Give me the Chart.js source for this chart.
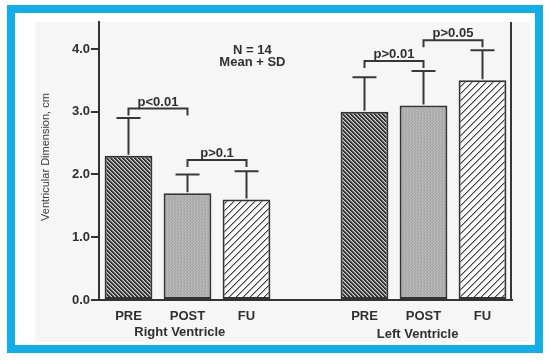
<!DOCTYPE html>
<html><head><meta charset="utf-8">
<script src="https://cdn.jsdelivr.net/npm/chart.js@4/dist/chart.umd.min.js"></script>
<style>html,body{margin:0;padding:0;background:#fff;} #wrap{width:550px;height:360px;position:relative}</style>
</head><body><div id="wrap"><canvas id="c" width="550" height="360"></canvas></div>
<script>
// ---- data ----
const categories = ['PRE', 'POST', 'FU', '', 'PRE', 'POST', 'FU'];
const means = [2.3, 1.7, 1.6, null, 3.0, 3.1, 3.5];
const sds = [0.6, 0.3, 0.45, null, 0.55, 0.55, 0.48];
const yTicks = [0, 1, 2, 3, 4];
const yMax = 4.43;
const groupNames = ['Right Ventricle', 'Left Ventricle'];
const groupCenters = [0.87, 4.9];
const bracketFrom = [0, 1, 4, 5];
const bracketTo = [1, 2, 5, 6];
const bracketLevel = [3.05, 2.23, 3.81, 4.14];
const bracketLabels = ['p<0.01', 'p>0.1', 'p>0.01', 'p>0.05'];
const noteLines = ['N = 14', 'Mean + SD'];
const notePos = 2.1;
const noteLevels = [3.98, 3.78];
const yTitle = 'Ventricular Dimension, cm';

// ---- styles ----
const INK = '#2f2f2f';
const FONT = "'Liberation Sans', Arial, sans-serif";
const canvas = document.getElementById('c');
const mctx = canvas.getContext('2d');

function pixelPattern(size, fn) {
  const c = document.createElement('canvas'); c.width = c.height = size;
  const g = c.getContext('2d');
  for (let y = 0; y < size; y++) for (let x = 0; x < size; x++) {
    g.fillStyle = fn(x, y); g.fillRect(x, y, 1, 1);
  }
  return mctx.createPattern(c, 'repeat');
}
// dense "\" stripes
const prePat = pixelPattern(4, (x, y) => {
  const m = ((x - y) % 4 + 4) % 4;
  return m === 0 ? '#262626' : m === 1 ? '#3c3c3c' : m === 2 ? '#8a8a8a' : '#d4d4d4';
});
// gray stipple
const postShades = ['#a4a4a4', '#bcbcbc', '#ababab', '#b6b6b6', '#9e9e9e', '#b9b9b9', '#aeaeae', '#a7a7a7', '#bfbfbf'];
const postPat = pixelPattern(3, (x, y) => postShades[y * 3 + x]);
// sparse "/" stripes
const fuPat = pixelPattern(7, (x, y) => {
  const m = (x + y) % 7;
  return m === 0 ? '#3a3a3a' : m === 1 ? '#a8a8a8' : '#f8f8f8';
});
const fills = [prePat, postPat, fuPat, 'rgba(0,0,0,0)', prePat, postPat, fuPat];

const deco = {
  id: 'deco',
  beforeDraw(chart) {
    const ctx = chart.ctx;
    ctx.save();
    ctx.fillStyle = '#ffffff'; ctx.fillRect(0, 0, 550, 360);
    ctx.fillStyle = '#f6f6f6'; ctx.fillRect(35, 22, 495, 320);
    ctx.strokeStyle = '#12aeea'; ctx.lineWidth = 8;
    ctx.strokeRect(11, 9, 528, 340);
    ctx.restore();
  },
  afterDatasetsDraw(chart) {
    const ctx = chart.ctx, xs = chart.scales.x, ys = chart.scales.y, ca = chart.chartArea;
    ctx.save();
    ctx.strokeStyle = '#383838'; ctx.lineWidth = 2; ctx.lineCap = 'butt';
    // right frame line
    ctx.beginPath(); ctx.moveTo(ca.right - 1, ca.top); ctx.lineTo(ca.right - 1, ca.bottom + 1); ctx.stroke();
    // error bars (upper only)
    means.forEach((m, i) => {
      if (m == null) return;
      const x = xs.getPixelForValue(i);
      const y0 = ys.getPixelForValue(m), y1 = ys.getPixelForValue(m + sds[i]);
      ctx.beginPath();
      ctx.moveTo(x, y0 - 1); ctx.lineTo(x, y1);
      ctx.moveTo(x - 12, y1); ctx.lineTo(x + 12, y1);
      ctx.stroke();
    });
    // brackets
    ctx.fillStyle = INK; ctx.font = 'bold 13px ' + FONT; ctx.textAlign = 'center'; ctx.textBaseline = 'alphabetic';
    bracketLabels.forEach((lab, k) => {
      const xa = xs.getPixelForValue(bracketFrom[k]), xb = xs.getPixelForValue(bracketTo[k]);
      const y = ys.getPixelForValue(bracketLevel[k]);
      ctx.beginPath();
      ctx.moveTo(xa, y + 7); ctx.lineTo(xa, y); ctx.lineTo(xb, y); ctx.lineTo(xb, y + 7);
      ctx.stroke();
      ctx.fillText(lab, (xa + xb) / 2, y - 3);
    });
    // note
    ctx.textBaseline = 'middle';
    noteLines.forEach((t, k) => ctx.fillText(t, xs.getPixelForValue(notePos), ys.getPixelForValue(noteLevels[k])));
    // group labels
    ctx.font = 'bold 13px ' + FONT;
    groupNames.forEach((g, k) => ctx.fillText(g, xs.getPixelForValue(groupCenters[k]), ca.bottom + 32 + k * 2));
    // y title
    ctx.font = '11px ' + FONT; ctx.fillStyle = '#3a3a3a';
    ctx.translate(46, (ca.top + ca.bottom) / 2 - 4);
    ctx.rotate(-Math.PI / 2);
    ctx.fillText(yTitle, 0, 0);
    ctx.restore();
  }
};

new Chart(canvas, {
  type: 'bar',
  data: {
    labels: categories,
    datasets: [{
      data: means,
      backgroundColor: fills,
      borderColor: '#333',
      borderWidth: 2,
      borderSkipped: false,
      barPercentage: 0.81,
      categoryPercentage: 1.0
    }]
  },
  options: {
    responsive: false,
    animation: false,
    devicePixelRatio: 1,
    layout: { padding: { top: 22, right: 38, left: 0, bottom: 0 } },
    plugins: { legend: { display: false }, tooltip: { enabled: false }, title: { display: false } },
    scales: {
      x: {
        offset: true,
        afterFit: s => { s.height = 60; },
        grid: { display: true, drawOnChartArea: false, drawTicks: false },
        border: { display: true, color: '#333', width: 2 },
        ticks: { color: INK, font: { family: FONT, size: 13, weight: 'bold' }, padding: 9, maxRotation: 0, autoSkip: false }
      },
      y: {
        min: 0, max: yMax,
        afterFit: s => { s.width = 99; },
        afterBuildTicks: s => { s.ticks = yTicks.map(v => ({ value: v })); },
        grid: { drawOnChartArea: false, drawTicks: true, tickLength: 8, color: '#333', lineWidth: 2 },
        border: { display: true, color: '#333', width: 2 },
        ticks: { color: INK, font: { family: FONT, size: 13, weight: 'bold' }, padding: 1, callback: v => Number(v).toFixed(1) }
      }
    }
  },
  plugins: [deco]
});
</script>
</body></html>
